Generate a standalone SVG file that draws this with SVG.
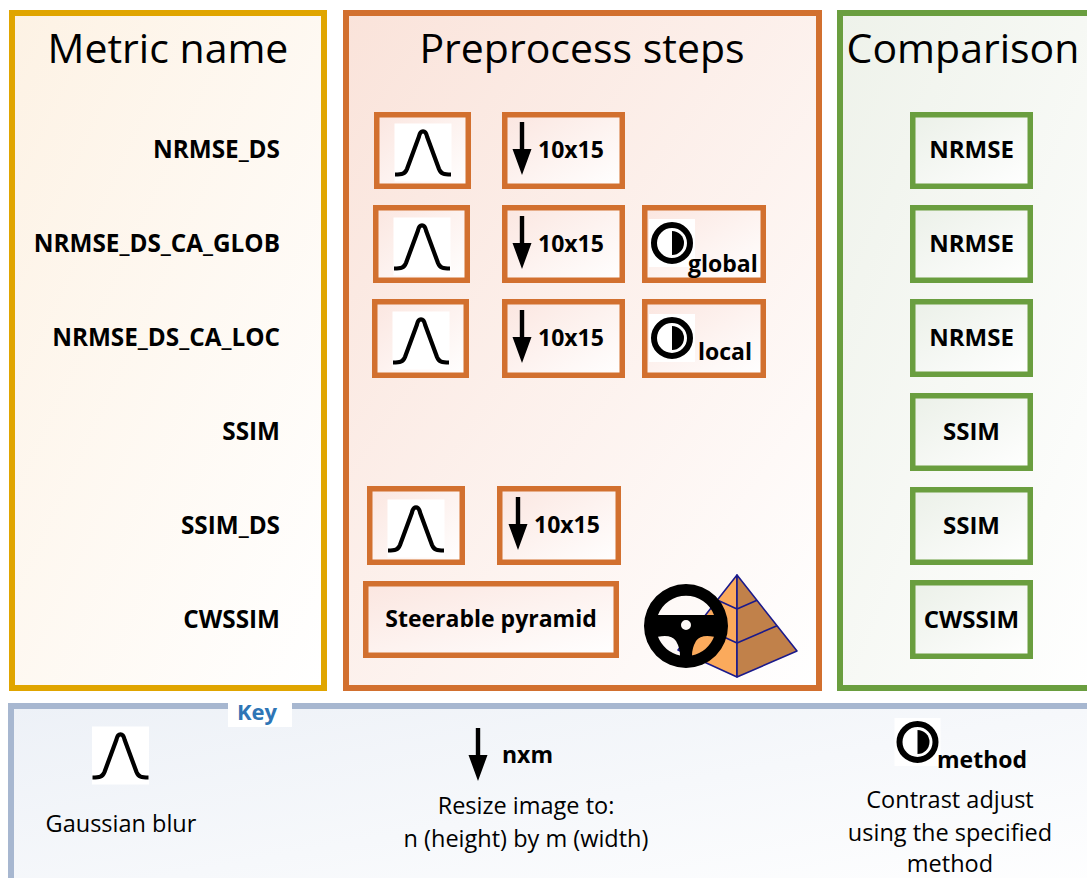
<svg xmlns="http://www.w3.org/2000/svg" xmlns:xlink="http://www.w3.org/1999/xlink" width="1087" height="878" viewBox="0 0 1087 878">
  <style>
    text { font-family: "Open Sans", "Liberation Sans", sans-serif; fill: #000; }
    .title { font-size: 41px; text-anchor: middle; }
    .lbl { font-size: 24.3px; font-weight: bold; text-anchor: end; }
    .bold { font-size: 23px; font-weight: bold; }
    .cmp { font-size: 24px; font-weight: bold; text-anchor: middle; }
    .mid { text-anchor: middle; }
    .key { font-size: 23.5px; text-anchor: middle; }
    .ob { fill: url(#gOrangeBox); stroke: #D2702F; stroke-width: 5.5; }
    .gb { fill: url(#gGreenBox); stroke: #6A9E3F; stroke-width: 5.5; }
    .panel { stroke-width: 6; }
  </style>
  <defs>
    <linearGradient id="gPanelGold" x1="0" y1="0" x2="1" y2="1">
      <stop offset="0" stop-color="#FDF2E4"/>
      <stop offset="1" stop-color="#FFFFFF"/>
    </linearGradient>
    <linearGradient id="gPanelOrange" x1="0" y1="0" x2="1" y2="1">
      <stop offset="0" stop-color="#FAE3DA"/>
      <stop offset="1" stop-color="#FFFFFF"/>
    </linearGradient>
    <linearGradient id="gPanelGreen" x1="0" y1="0" x2="1" y2="1">
      <stop offset="0" stop-color="#EEF2EA"/>
      <stop offset="1" stop-color="#FFFFFF"/>
    </linearGradient>
    <linearGradient id="gPanelKey" x1="0" y1="0" x2="1" y2="1">
      <stop offset="0" stop-color="#EDF1F7"/>
      <stop offset="1" stop-color="#FFFFFF"/>
    </linearGradient>
    <linearGradient id="gOrangeBox" x1="0" y1="0" x2="1" y2="1">
      <stop offset="0" stop-color="#FBE6E0"/>
      <stop offset="1" stop-color="#FFFFFF"/>
    </linearGradient>
    <linearGradient id="gGreenBox" x1="0" y1="0" x2="1" y2="1">
      <stop offset="0" stop-color="#EBF0E8"/>
      <stop offset="1" stop-color="#FFFFFF"/>
    </linearGradient>
    <!-- Gaussian blur glyph, centred on the origin -->
    <g id="gauss">
      <rect x="-28.5" y="-28.5" width="57" height="58" fill="#FFFFFF"/>
      <path d="M -28,22.5 C -21,22.5 -18,22 -16,17 L -4.2,-15 C -2.6,-22.5 2.6,-22.5 4.2,-15 L 16,17 C 18,22 21,22.5 28,22.5" fill="none" stroke="#000" stroke-width="4.2" stroke-linejoin="round"/>
    </g>
    <!-- Downsample arrow, centred on the origin -->
    <path id="down" d="M -2.2,-27 H 2.2 V 0 H 9.5 L 0,26 L -9.5,0 H -2.2 Z" fill="#000"/>
    <!-- Contrast adjust glyph -->
    <g id="contrast">
      <rect x="-23" y="-24" width="46" height="48" fill="#FFFFFF"/>
      <circle cx="0" cy="0" r="18" fill="none" stroke="#000" stroke-width="6"/>
      <path d="M 0,-12 A 12 12 0 0 1 0,12 Z" fill="#000"/>
    </g>
  </defs>

  <!-- Column panels -->
  <g id="panel-metric">
    <rect class="panel" x="12" y="13" width="312" height="675" fill="url(#gPanelGold)" stroke="#E0A500"/>
    <text class="title" x="168" y="63">Metric name</text>
  </g>
  <g id="panel-preprocess">
    <rect class="panel" x="346" y="13" width="473" height="675" fill="url(#gPanelOrange)" stroke="#D2702F"/>
    <text class="title" x="582" y="63">Preprocess steps</text>
  </g>
  <g id="panel-comparison">
    <rect class="panel" x="840" y="13" width="260" height="675" fill="url(#gPanelGreen)" stroke="#6A9E3F"/>
    <text class="title" x="963" y="63">Comparison</text>
  </g>

  <!-- Metric names -->
  <g id="metric-names">
    <text class="lbl" x="280" y="158">NRMSE_DS</text>
    <text class="lbl" x="280" y="252">NRMSE_DS_CA_GLOB</text>
    <text class="lbl" x="280" y="346">NRMSE_DS_CA_LOC</text>
    <text class="lbl" x="280" y="440">SSIM</text>
    <text class="lbl" x="280" y="534">SSIM_DS</text>
    <text class="lbl" x="280" y="628">CWSSIM</text>
  </g>

  <!-- Row 1: NRMSE_DS -->
  <g id="row1-blur">
    <rect class="ob" x="376.75" y="114.75" width="91.5" height="71.5"/>
    <use xlink:href="#gauss" x="423" y="152"/>
  </g>
  <g id="row1-resize">
    <rect class="ob" x="504.75" y="114.75" width="117.5" height="71.5"/>
    <use xlink:href="#down" x="522" y="149"/>
    <text class="bold" x="538" y="158">10x15</text>
  </g>

  <!-- Row 2: NRMSE_DS_CA_GLOB -->
  <g id="row2-blur">
    <rect class="ob" x="375.75" y="207.75" width="91.5" height="72.5"/>
    <use xlink:href="#gauss" x="422" y="246"/>
  </g>
  <g id="row2-resize">
    <rect class="ob" x="504.75" y="207.75" width="117.5" height="72.5"/>
    <use xlink:href="#down" x="522" y="243"/>
    <text class="bold" x="538" y="252">10x15</text>
  </g>
  <g id="row2-contrast">
    <rect class="ob" x="644.75" y="207.75" width="118.5" height="72.5"/>
    <use xlink:href="#contrast" x="672" y="243"/>
    <text class="bold" x="688" y="272">global</text>
  </g>

  <!-- Row 3: NRMSE_DS_CA_LOC -->
  <g id="row3-blur">
    <rect class="ob" x="374.75" y="301.75" width="91.5" height="73.5"/>
    <use xlink:href="#gauss" x="421" y="340"/>
  </g>
  <g id="row3-resize">
    <rect class="ob" x="504.75" y="301.75" width="117.5" height="73.5"/>
    <use xlink:href="#down" x="522" y="337"/>
    <text class="bold" x="538" y="346">10x15</text>
  </g>
  <g id="row3-contrast">
    <rect class="ob" x="644.75" y="301.75" width="118.5" height="73.5"/>
    <use xlink:href="#contrast" x="672" y="338"/>
    <text class="bold" x="698" y="360">local</text>
  </g>

  <!-- Row 5: SSIM_DS -->
  <g id="row5-blur">
    <rect class="ob" x="369.75" y="488.75" width="92.5" height="73.5"/>
    <use xlink:href="#gauss" x="416" y="528"/>
  </g>
  <g id="row5-resize">
    <rect class="ob" x="499.75" y="488.75" width="118.5" height="73.5"/>
    <use xlink:href="#down" x="518" y="524"/>
    <text class="bold" x="534" y="533">10x15</text>
  </g>

  <!-- Row 6: CWSSIM -->
  <g id="row6-pyramid">
    <rect class="ob" x="365.75" y="583.75" width="250.5" height="71.5"/>
    <text class="bold mid" x="491" y="627">Steerable pyramid</text>
  </g>

  <!-- Steerable pyramid illustration -->
  <g id="pyramid-icon" stroke="#1A1A8C" stroke-width="1.6" stroke-linejoin="round">
    <path d="M 737,575 L 678,650 L 737,677 Z" fill="#FBAA5C"/>
    <path d="M 737,575 L 737,677 L 797,651 Z" fill="#C1814A"/>
    <path d="M 717.3,600 L 737,609 L 757,600.3" fill="none"/>
    <path d="M 697.7,625 L 737,643 L 777,625.7" fill="none"/>
  </g>
  <g id="wheel-icon">
    <path fill="#000" fill-rule="evenodd" transform="translate(686,626)"
      d="M 42,0 A 42 42 0 1 0 -42,0 A 42 42 0 1 0 42,0 Z
         M -28,-11 A 30 30 0 0 1 28,-11 Z
         M 5,-1 A 5 5 0 1 0 -5,-1 A 5 5 0 1 0 5,-1 Z
         M -28,10.8 Q -15,8 -10,15 Q -6,22 -6,29.4 A 30 30 0 0 1 -28,10.8 Z
         M 28,10.8 Q 15,8 10,15 Q 6,22 6,29.4 A 30 30 0 0 0 28,10.8 Z"/>
  </g>

  <!-- Comparison methods -->
  <g id="cmp-row1">
    <rect class="gb" x="912.75" y="114.75" width="117.5" height="71.5"/>
    <text class="cmp" x="971.5" y="158">NRMSE</text>
  </g>
  <g id="cmp-row2">
    <rect class="gb" x="912.75" y="207.75" width="117.5" height="72.5"/>
    <text class="cmp" x="971.5" y="252">NRMSE</text>
  </g>
  <g id="cmp-row3">
    <rect class="gb" x="912.75" y="301.75" width="117.5" height="72.5"/>
    <text class="cmp" x="971.5" y="346">NRMSE</text>
  </g>
  <g id="cmp-row4">
    <rect class="gb" x="912.75" y="395.75" width="117.5" height="72.5"/>
    <text class="cmp" x="971.5" y="440">SSIM</text>
  </g>
  <g id="cmp-row5">
    <rect class="gb" x="912.75" y="489.75" width="117.5" height="72.5"/>
    <text class="cmp" x="971.5" y="534">SSIM</text>
  </g>
  <g id="cmp-row6">
    <rect class="gb" x="912.75" y="582.75" width="117.5" height="73.5"/>
    <text class="cmp" x="971.5" y="628">CWSSIM</text>
  </g>

  <!-- Key -->
  <g id="key">
    <rect class="panel" x="11" y="706" width="1090" height="200" fill="url(#gPanelKey)" stroke="#A7B7D0"/>
    <rect x="228" y="700" width="64" height="27" fill="#FFFFFF"/>
    <text x="257" y="720" style="font-size:22px;font-weight:bold;fill:#2E75B6;text-anchor:middle">Key</text>
  </g>
  <g id="key-blur">
    <use xlink:href="#gauss" x="120.5" y="755"/>
    <text class="key" x="121" y="832">Gaussian blur</text>
  </g>
  <g id="key-resize">
    <use xlink:href="#down" x="478" y="755"/>
    <text class="bold" x="502" y="763">nxm</text>
    <text class="key" x="526" y="814">Resize image to:</text>
    <text class="key" x="526" y="847">n (height) by m (width)</text>
  </g>
  <g id="key-contrast">
    <use xlink:href="#contrast" x="917.5" y="742"/>
    <text class="bold" x="937" y="768">method</text>
    <text class="key" x="950" y="808">Contrast adjust</text>
    <text class="key" x="950" y="841">using the specified</text>
    <text class="key" x="950" y="872">method</text>
  </g>
</svg>
